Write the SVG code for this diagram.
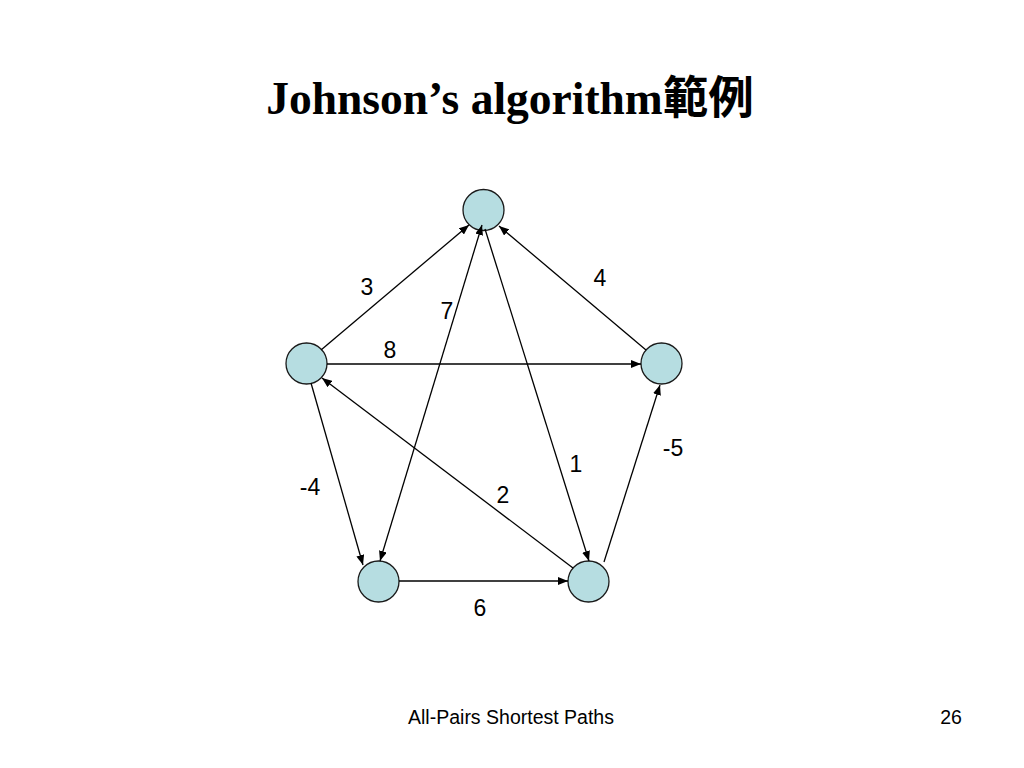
<svg xmlns="http://www.w3.org/2000/svg" width="1024" height="768" viewBox="0 0 1024 768">
<style>
.node{fill:#b6dde1;stroke:#1a1a1a;stroke-width:1.3}
.edge{stroke:#000;stroke-width:1.3;fill:none;marker-end:url(#arr)}
.lbl{font-family:"Liberation Sans",Arial,sans-serif;font-size:23px;fill:#000;text-anchor:middle}
.foot{font-family:"Liberation Sans",Arial,sans-serif;font-size:19.5px;fill:#000}
.title{font-family:"Liberation Serif","Times New Roman","Noto Sans CJK TC",serif;font-weight:bold;font-size:45.5px;fill:#000;text-anchor:middle}
</style>
<defs>
<marker id="arr" viewBox="0 0 10 8" refX="10" refY="4" markerWidth="10" markerHeight="8" markerUnits="userSpaceOnUse" orient="auto">
<path d="M0,0 L10,4 L0,8 z" fill="#000"/>
</marker>
<marker id="arrs" viewBox="0 0 10 8" refX="10" refY="4" markerWidth="10" markerHeight="8" markerUnits="userSpaceOnUse" orient="auto-start-reverse">
<path d="M0,0 L10,4 L0,8 z" fill="#000"/>
</marker>
</defs>
<rect width="1024" height="768" fill="#fff"/>
<text class="title" x="510" y="114">Johnson’s algorithm<tspan font-family="'Noto Sans CJK TC','Noto Sans CJK SC',sans-serif">範例</tspan></text>
<g id="nodes">
<g id="n-top"><circle class="node" cx="483.5" cy="210" r="20.5"/></g>
<g id="n-left"><circle class="node" cx="306.5" cy="363.5" r="20.5"/></g>
<g id="n-right"><circle class="node" cx="661.5" cy="363.5" r="20.5"/></g>
<g id="n-bl"><circle class="node" cx="378.5" cy="581.5" r="20.5"/></g>
<g id="n-br"><circle class="node" cx="588.5" cy="581.5" r="20.5"/></g>
</g>
<g id="connectors">
<line class="edge" x1="321" y1="350" x2="469" y2="225"/>
<line class="edge" x1="646" y1="350" x2="499" y2="226"/>
<line class="edge" x1="327" y1="364" x2="641" y2="364"/>
<line class="edge" x1="311" y1="383" x2="363" y2="565"/>
<line class="edge" x1="482" y1="225" x2="380" y2="561" marker-start="url(#arrs)"/>
<line class="edge" x1="485" y1="229" x2="589" y2="561"/>
<line class="edge" x1="573" y1="568" x2="322" y2="378"/>
<line class="edge" x1="399" y1="581" x2="568" y2="581"/>
<line class="edge" x1="604" y1="562" x2="660" y2="385"/>
</g>
<g id="labels">
<text class="lbl" x="367" y="295">3</text>
<text class="lbl" x="600" y="286">4</text>
<text class="lbl" x="447" y="319">7</text>
<text class="lbl" x="390" y="358">8</text>
<text class="lbl" x="673" y="456">-5</text>
<text class="lbl" x="576" y="472">1</text>
<text class="lbl" x="310" y="495">-4</text>
<text class="lbl" x="503" y="503">2</text>
<text class="lbl" x="480" y="616">6</text>
</g>
<text class="foot" x="511" y="724" text-anchor="middle">All-Pairs Shortest Paths</text>
<text class="foot" x="951" y="724" text-anchor="middle">26</text>
</svg>
